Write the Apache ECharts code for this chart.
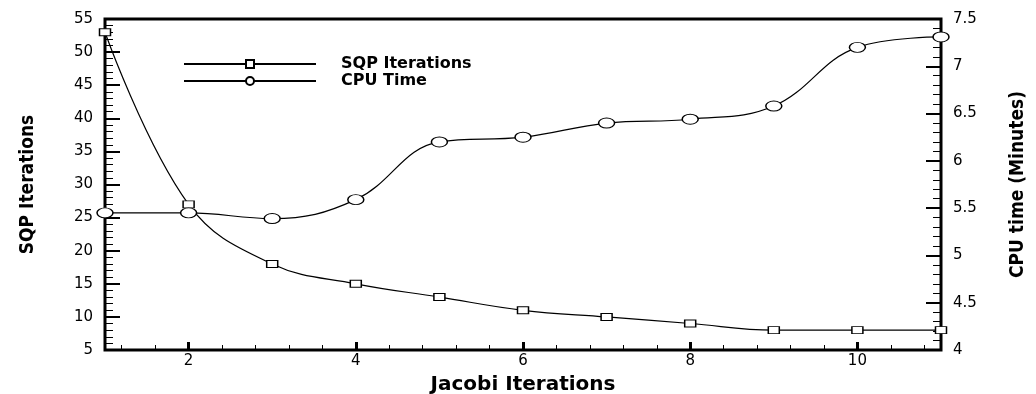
<!DOCTYPE html>
<html><head><meta charset="utf-8">
<script src="https://cdn.jsdelivr.net/npm/echarts@6/dist/echarts.min.js"></script>
<style>html,body{margin:0;background:#fff}#c{width:1036px;height:394px}</style>
</head><body><div id="c"></div>
<script>
const jacobiIterations = [1, 2, 3, 4, 5, 6, 7, 8, 9, 10, 11];
const sqpIterations = [53, 27, 18, 15, 13, 11, 10, 9, 8, 8, 8];
const cpuTime = [5.45, 5.45, 5.39, 5.59, 6.20, 6.25, 6.40, 6.44, 6.58, 7.20, 7.31];
const xMajorTicks = [2, 4, 6, 8, 10];
const xMinorTicks = [1.2, 1.6, 2.4, 2.8, 3.2, 3.6, 4.4, 4.8, 5.2, 5.6, 6.4, 6.8, 7.2, 7.6, 8.4, 8.8, 9.2, 9.6, 10.4, 10.8];
const seriesNames = ['SQP Iterations', 'CPU Time'];

const tickFont = { color: '#000', fontSize: 15, fontFamily: 'DejaVu Sans' };
const narrowBold = { color: '#000', fontSize: 19, fontWeight: 'bold', fontFamily: "'DejaVu Sans Condensed', 'Liberation Sans Narrow', sans-serif" };
const chart = echarts.init(document.getElementById('c'), null, { renderer: 'canvas' });
chart.setOption({
  animation: false,
  backgroundColor: '#fff',
  grid: { left: 105, right: 95, top: 19, bottom: 44, outerBoundsMode: 'none', containLabel: false, show: true, borderColor: '#000', borderWidth: 3, backgroundColor: 'transparent' },
  legend: {
    orient: 'vertical', left: 183, top: 56, itemGap: 1, padding: 0,
    itemWidth: 132, itemHeight: 10,
    data: seriesNames,
    textStyle: { color: '#000', fontSize: 16, fontWeight: 'bold', fontFamily: 'DejaVu Sans', padding: [0, 0, 0, 20] }
  },
  xAxis: [{
    type: 'value', min: 1, max: 11, position: 'bottom',
    name: 'Jacobi Iterations', nameLocation: 'middle', nameGap: 25,
    nameTextStyle: { color: '#000', fontSize: 20, fontWeight: 'bold', fontFamily: 'DejaVu Sans' },
    axisLine: { show: false },
    splitLine: { show: false },
    axisTick: { show: true, inside: true, length: 8, customValues: xMajorTicks, lineStyle: { color: '#000', width: 3 } },
    axisLabel: { ...tickFont, margin: 4, customValues: xMajorTicks }
  }, {
    type: 'value', min: 1, max: 11, position: 'bottom',
    axisLine: { show: false }, splitLine: { show: false },
    axisLabel: { show: false },
    axisTick: { show: true, inside: true, length: 5, customValues: xMinorTicks, lineStyle: { color: '#000', width: 1 } }
  }],
  yAxis: [{
    type: 'value', min: 5, max: 55, interval: 5, position: 'left',
    name: 'SQP Iterations', nameLocation: 'middle', nameGap: 67, nameRotate: 90,
    nameTextStyle: narrowBold,
    axisLine: { show: false }, splitLine: { show: false },
    axisTick: { show: true, inside: true, length: 15, lineStyle: { color: '#000', width: 2 } },
    minorTick: { show: true, splitNumber: 5, length: 8, lineStyle: { color: '#000', width: 1 } },
    axisLabel: { ...tickFont, margin: 12 }
  }, {
    type: 'value', min: 4, max: 7.5, interval: 0.5, position: 'right',
    name: 'CPU time (Minutes)', nameLocation: 'middle', nameGap: 68, nameRotate: 90,
    nameTextStyle: narrowBold,
    axisLine: { show: false }, splitLine: { show: false },
    axisTick: { show: true, inside: true, length: 15, lineStyle: { color: '#000', width: 2 } },
    minorTick: { show: true, splitNumber: 5, length: 8, lineStyle: { color: '#000', width: 1 } },
    axisLabel: { ...tickFont, margin: 12 }
  }],
  series: [{
    name: seriesNames[0], type: 'line', xAxisIndex: 0, yAxisIndex: 0,
    smooth: 0.4,
    data: jacobiIterations.map((x, i) => [x, sqpIterations[i]]),
    symbol: 'rect', symbolSize: [11, 7], showAllSymbol: true,
    lineStyle: { color: '#000', width: 1.2 },
    itemStyle: { color: '#fff', borderColor: '#000', borderWidth: 1.2 }
  }, {
    name: seriesNames[1], type: 'line', xAxisIndex: 0, yAxisIndex: 1,
    smooth: 0.4,
    data: jacobiIterations.map((x, i) => [x, cpuTime[i]]),
    symbol: 'circle', symbolSize: [16, 10], showAllSymbol: true,
    lineStyle: { color: '#000', width: 1.2 },
    itemStyle: { color: '#fff', borderColor: '#000', borderWidth: 1.2 }
  }]
});
</script></body></html>
